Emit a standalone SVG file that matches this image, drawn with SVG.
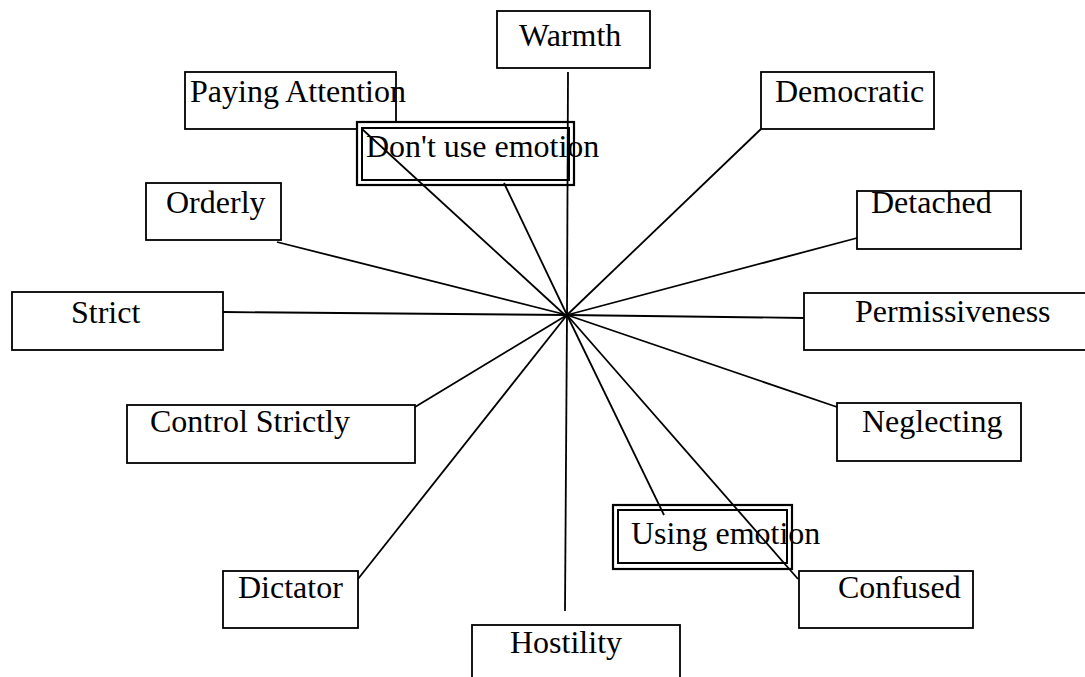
<svg xmlns="http://www.w3.org/2000/svg" width="1085" height="677" viewBox="0 0 1085 677">
<style>
.box{fill:#fff;stroke:#000;stroke-width:1.8}
.dbl{fill:none;stroke:#000;stroke-width:2}
.t{font-family:"Liberation Serif","Times New Roman",serif;font-size:32px;fill:#000}
.c line{stroke:#000;stroke-width:1.8}
</style>
<rect width="1085" height="677" fill="#fff"/>
<g id="warmth"><rect class="box" x="497" y="11" width="153" height="57"/><text class="t" x="519" y="46">Warmth</text></g>
<g id="paying-attention"><rect class="box" x="185" y="72" width="211" height="57"/><text class="t" x="190" y="102">Paying Attention</text></g>
<g id="dont-use-emotion"><rect x="357" y="122" width="217" height="63" fill="#fff" stroke="#000" stroke-width="2.2"/><rect class="dbl" x="362" y="128" width="207" height="52"/><text class="t" x="366" y="157">Don't use emotion</text></g>
<g id="democratic"><rect class="box" x="761" y="72" width="173" height="57"/><text class="t" x="775" y="102">Democratic</text></g>
<g id="detached"><rect class="box" x="857" y="191" width="164" height="58"/><text class="t" x="871" y="213">Detached</text></g>
<g id="permissiveness"><rect class="box" x="804" y="293" width="290" height="57"/><text class="t" x="855" y="322">Permissiveness</text></g>
<g id="orderly"><rect class="box" x="146" y="183" width="135" height="57"/><text class="t" x="166" y="213">Orderly</text></g>
<g id="strict"><rect class="box" x="12" y="292" width="211" height="58"/><text class="t" x="71" y="323">Strict</text></g>
<g id="control-strictly"><rect class="box" x="127" y="405" width="288" height="58"/><text class="t" x="150" y="432">Control Strictly</text></g>
<g id="neglecting"><rect class="box" x="837" y="403" width="184" height="58"/><text class="t" x="862" y="432">Neglecting</text></g>
<g id="using-emotion"><rect x="613" y="505" width="179" height="64" fill="#fff" stroke="#000" stroke-width="2.2"/><rect class="dbl" x="618" y="510" width="169" height="53"/><text class="t" x="631" y="544">Using emotion</text></g>
<g id="confused"><rect class="box" x="799" y="571" width="174" height="57"/><text class="t" x="838" y="598">Confused</text></g>
<g id="dictator"><rect class="box" x="223" y="571" width="135" height="57"/><text class="t" x="238" y="598">Dictator</text></g>
<g id="hostility"><rect class="box" x="472" y="625" width="208" height="60"/><text class="t" x="510" y="653">Hostility</text></g>
<g id="connectors" class="c">
<line x1="568" y1="72" x2="567" y2="315"/>
<line x1="567" y1="315" x2="565" y2="611"/>
<line x1="362" y1="129" x2="566" y2="316"/>
<line x1="504" y1="183" x2="567" y2="315"/>
<line x1="761" y1="129" x2="567" y2="315"/>
<line x1="857" y1="238" x2="567" y2="315"/>
<line x1="804" y1="318" x2="567" y2="315"/>
<line x1="277" y1="242" x2="567" y2="315"/>
<line x1="223" y1="312" x2="567" y2="315"/>
<line x1="415" y1="407" x2="567" y2="315"/>
<line x1="837" y1="407" x2="567" y2="315"/>
<line x1="664" y1="515" x2="567" y2="315"/>
<line x1="798" y1="579" x2="567" y2="315"/>
<line x1="358" y1="579" x2="567" y2="315"/>
</g>
</svg>
